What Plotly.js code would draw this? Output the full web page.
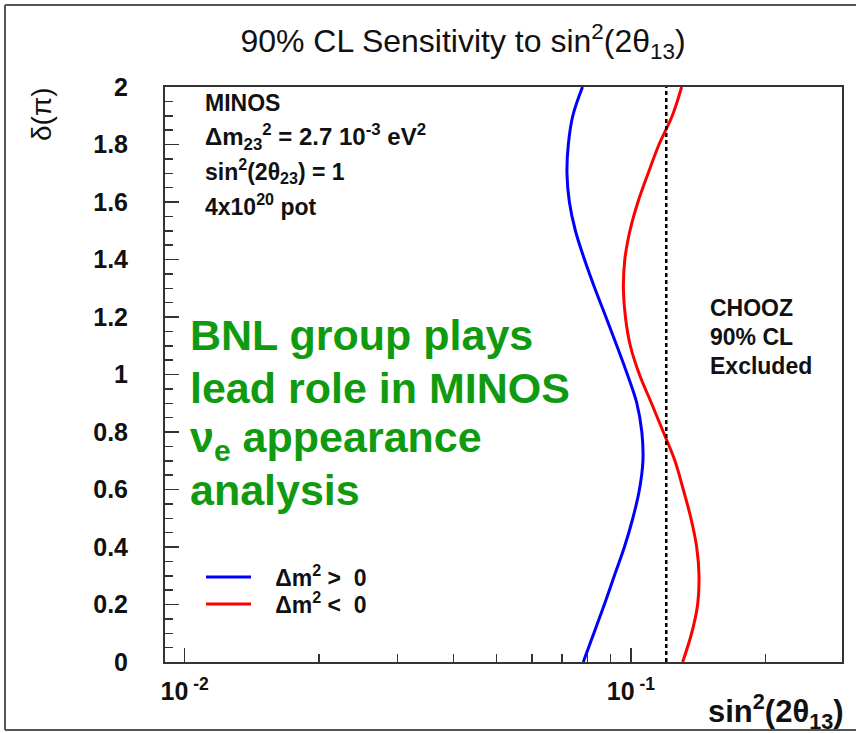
<!DOCTYPE html>
<html>
<head>
<meta charset="utf-8">
<script src="https://cdn.plot.ly/plotly-3.0.1.min.js"></script>
<style>html,body{margin:0;padding:0;background:#fff;}#plot{width:856px;height:733px;}</style>
</head>
<body>
<div id="plot"></div>
<script>
// delta CP in units of pi
const deltaValues = [0.0,0.1,0.2,0.3,0.4,0.5,0.6,0.7,0.8,0.9,1.0,1.1,1.2,1.3,1.4,1.5,1.6,1.7,1.8,1.9,2.0];
// 90% CL sensitivity, normal hierarchy (dm2 > 0)
const sensNormal = [0.0782,0.0826,0.0872,0.0918,0.0967,0.1010,0.1045,0.1064,0.1058,0.1031,0.0982,0.0930,0.0879,0.0830,0.0787,0.0751,0.0728,0.0719,0.0724,0.0741,0.0779];
// 90% CL sensitivity, inverted hierarchy (dm2 < 0)
const sensInverted = [0.1306,0.1368,0.1411,0.1421,0.1404,0.1363,0.1310,0.1255,0.1182,0.1112,0.1045,0.0997,0.0972,0.0962,0.0969,0.0995,0.1037,0.1093,0.1156,0.1238,0.1299];
// CHOOZ 90% CL limit
const choozLimit = 0.12;
const choozDelta = [0, 2];
const seriesNames = ['\u00a0\u00a0\u00a0Δm<sup>2</sup>\u00a0&gt;\u00a0\u00a00', '\u00a0\u00a0\u00a0Δm<sup>2</sup>\u00a0&lt;\u00a0\u00a00'];
const xTickVals = [0.01, 0.1];
const xTickText = ['10<sup> -2</sup>', '10<sup> -1</sup>'];

const FONT = 'Liberation Sans, Arial, Helvetica, sans-serif';

// minor tick positions on the log axis (2..9 per decade)
const minorVals = [];
[0.01, 0.1].forEach(d => { for (let k = 2; k <= 9; k++) minorVals.push(k * d); });

const traces = [
  {x: sensNormal, y: deltaValues, type: 'scatter', mode: 'lines', name: seriesNames[0], legend: 'legend',
   line: {color: '#0000ff', width: 3, shape: 'spline', smoothing: 1}},
  {x: sensInverted, y: deltaValues, type: 'scatter', mode: 'lines', name: seriesNames[1], legend: 'legend2',
   line: {color: '#ff0000', width: 3, shape: 'spline', smoothing: 1}},
  {x: [choozLimit, choozLimit], y: choozDelta, type: 'scatter', mode: 'lines', showlegend: false,
   line: {color: '#000000', width: 2.5, dash: '4px,3px'}}
];

const L = 165, R = 842, T = 87, B = 662;
const px = v => (v - L) / (R - L);
const py = v => (B - v) / (B - T);

const txt = (x, y, text, size, color, weight) => ({
  xref: 'paper', yref: 'paper', x: px(x), y: py(y), text: text, showarrow: false,
  xanchor: 'left', yanchor: 'middle',
  font: {family: FONT, size: size, color: color || '#111', weight: weight || 'bold'}
});

const G = '#109a10';
const annotations = [
  txt(203, 103, 'MINOS', 23),
  txt(203, 137, 'Δm<sub>23</sub><sup>2</sup> = 2.7 10<sup>-3</sup> eV<sup>2</sup>', 24),
  txt(203, 171, 'sin<sup>2</sup>(2θ<sub>23</sub>) = 1', 23),
  txt(203, 205, '4x10<sup>20</sup> pot', 23),
  txt(708, 308, 'CHOOZ', 23),
  txt(708, 337, '90% CL', 23),
  txt(708, 366, 'Excluded', 23),
  txt(188, 335, 'BNL group plays', 43, G),
  txt(188, 388, 'lead role in MINOS', 43, G),
  txt(188, 440, 'ν<sub>e</sub> appearance', 43, G),
  txt(188, 490, 'analysis', 43, G),
  {xref: 'paper', yref: 'paper', x: px(41), y: py(114), text: 'δ(π)', showarrow: false,
   textangle: -90, xanchor: 'center', yanchor: 'middle',
   font: {family: FONT, size: 28, color: '#111'}},
  {xref: 'paper', yref: 'paper', x: px(776), y: py(711), text: 'sin<sup>2</sup>(2θ<sub>13</sub>)', showarrow: false,
   xanchor: 'center', yanchor: 'middle',
   font: {family: FONT, size: 31, color: '#111', weight: 'bold'}}
];

const frameColor = '#555';
const shapes = [
  {type: 'line', xref: 'paper', yref: 'paper', x0: px(5), x1: px(5), y0: py(5), y1: py(730), line: {color: frameColor, width: 2}},
  {type: 'line', xref: 'paper', yref: 'paper', x0: px(5), x1: px(856), y0: py(5), y1: py(5), line: {color: frameColor, width: 2}},
  {type: 'line', xref: 'paper', yref: 'paper', x0: px(5), x1: px(856), y0: py(730), y1: py(730), line: {color: frameColor, width: 2}}
];

const legendStyle = (topPx) => ({
  x: px(201), y: py(topPx), xanchor: 'left', yanchor: 'top', bgcolor: 'rgba(0,0,0,0)',
  itemwidth: 45, font: {family: FONT, size: 23, color: '#111', weight: 'bold'}, tracegroupgap: 0
});

const layout = {
  width: 856, height: 733,
  margin: {l: L, r: 856 - R, t: T, b: 733 - B, pad: 0},
  paper_bgcolor: '#ffffff', plot_bgcolor: '#ffffff',
  font: {family: FONT, color: '#111'},
  title: {text: '90% CL Sensitivity to sin<sup>2</sup>(2θ<sub>13</sub>)', xref: 'container', yref: 'container',
          x: 463 / 856, y: 1 - 41 / 733, xanchor: 'center', yanchor: 'middle',
          font: {family: FONT, size: 32, color: '#111'}},
  xaxis: {type: 'log', range: [-2.044, -0.527], showgrid: false, zeroline: false,
          showline: true, mirror: true, linecolor: '#333', linewidth: 2,
          ticks: 'inside', ticklen: 14, tickwidth: 1.5, tickcolor: '#333',
          tickmode: 'array', tickvals: xTickVals, ticktext: xTickText,
          tickfont: {family: FONT, size: 25, color: '#111', weight: 'bold'},
          ticklabelstandoff: 6,
          minor: {tickmode: 'array', tickvals: minorVals, ticks: 'inside', ticklen: 8, tickwidth: 1.5, tickcolor: '#333', showgrid: false}},
  yaxis: {range: [0, 2], showgrid: false, zeroline: false,
          showline: true, mirror: true, linecolor: '#333', linewidth: 2,
          ticks: 'inside', ticklen: 14, tickwidth: 1.5, tickcolor: '#333',
          tickmode: 'linear', tick0: 0, dtick: 0.2,
          tickfont: {family: FONT, size: 25, color: '#111', weight: 'bold'},
          ticklabelstandoff: 30,
          minor: {dtick: 0.05, ticks: 'inside', ticklen: 8, tickwidth: 1.5, tickcolor: '#333', showgrid: false}},
  showlegend: true,
  legend: legendStyle(555.5),
  legend2: legendStyle(582.5),
  annotations: annotations,
  shapes: shapes
};

Plotly.newPlot('plot', traces, layout, {displayModeBar: false, staticPlot: true});
</script>
</body>
</html>
